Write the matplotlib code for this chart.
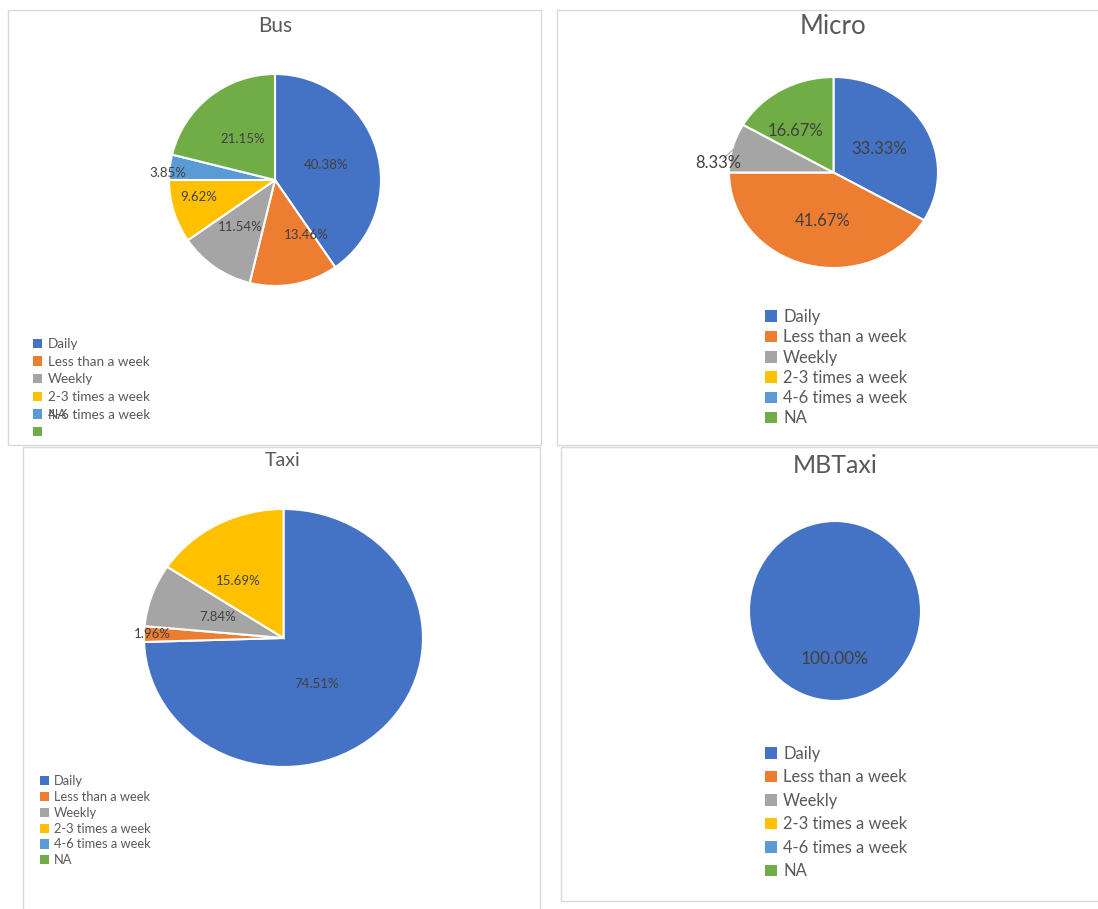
import numpy as np
import matplotlib.pyplot as plt
from matplotlib.patches import Patch, Rectangle

plt.rcParams["font.family"] = ["Lato", "DejaVu Sans"]

W, H = 1098, 909

# frequency categories and Office palette
categories = ["Daily", "Less than a week", "Weekly", "2-3 times a week", "4-6 times a week", "NA"]
colors = ["#4472C4", "#ED7D31", "#A5A5A5", "#FFC000", "#5B9BD5", "#70AD47"]

# share of respondents (%) per mode
bus = [40.38, 13.46, 11.54, 9.62, 3.85, 21.15]
micro = [33.33, 41.67, 8.33, 0, 0, 16.67]
taxi = [74.51, 1.96, 7.84, 15.69, 0, 0]
mbtaxi = [100.0, 0, 0, 0, 0, 0]

fig = plt.figure(figsize=(W / 100, H / 100), dpi=100)
fig.patch.set_facecolor("white")


def fx(x):
    return x / W


def fy(y):
    return 1 - y / H


def frame(x0, y0, x1, y1):
    fig.add_artist(Rectangle((fx(x0), fy(y1)), fx(x1) - fx(x0), fy(y0) - fy(y1),
                             transform=fig.transFigure, fill=False,
                             edgecolor="#d9d9d9", linewidth=1))


def pie_axes(cx, cy, rx, ry):
    m = 1.1
    ax = fig.add_axes([fx(cx - m * rx), fy(cy + m * ry), 2 * m * rx / W, 2 * m * ry / H])
    return ax


def draw_pie(ax, values, label_pos, fs):
    vals = [v for v in values if v > 0]
    cols = [c for v, c in zip(values, colors) if v > 0]
    wedges, _ = ax.pie(vals, colors=cols, startangle=90, counterclock=False,
                       wedgeprops=dict(edgecolor="white", linewidth=1.5))
    ax.set_aspect("auto")
    ax.set_xlim(-1.1, 1.1)
    ax.set_ylim(-1.1, 1.1)
    for w, v, (d, dt) in zip(wedges, vals, label_pos):
        ang = np.deg2rad((w.theta1 + w.theta2) / 2 + dt)
        ax.text(d * np.cos(ang), d * np.sin(ang), f"{v:.2f}%", ha="center", va="center",
                fontsize=fs, color="#404040")
    return wedges


def legend(x, y, fs, ls):
    handles = [Patch(facecolor=c, edgecolor="none") for c in colors]
    return fig.legend(handles, categories, loc="upper left", bbox_to_anchor=(fx(x), fy(y)),
                      frameon=False, fontsize=fs, handlelength=0.7, handleheight=0.7,
                      handletextpad=0.4, labelspacing=ls, borderpad=0, borderaxespad=0,
                      labelcolor="#595959")


# panel outlines
frame(8, 10, 541, 445)
frame(557, 10, 1110, 445)
frame(23, 447, 540, 920)
frame(561, 447, 1110, 901)

# Bus
fig.text(fx(275), fy(26), "Bus", ha="center", va="center", fontsize=15, color="#595959")
ax = pie_axes(275, 180, 106, 106)
draw_pie(ax, bus, [(0.5, -1), (0.6, 19), (0.55, -2), (0.74, -5), (1.01, 3), (0.49, 0)], 9.5)
bus_leg = legend(33, 338, 9.7, 0.42)
texts = bus_leg.get_texts()
texts[5].set_text("")

# Micro
fig.text(fx(833), fy(27), "Micro", ha="center", va="center", fontsize=18.5, color="#595959")
ax = pie_axes(833.5, 172.5, 104.5, 95.5)
wedges = draw_pie(ax, micro, [(0.5, 0), (0.52, 3), (1.11, 10), (0.57, 10)], 12)
w = wedges[2]
a = np.deg2rad((w.theta1 + w.theta2) / 2)
ax.plot([0.98 * np.cos(a), 1.06 * np.cos(a + 0.12)], [0.98 * np.sin(a), 1.06 * np.sin(a + 0.12)],
        color="#a6a6a6", linewidth=0.8, clip_on=False)
legend(765, 309, 11.9, 0.26)

# Taxi
fig.text(fx(283), fy(460), "Taxi", ha="center", va="center", fontsize=14, color="#595959")
ax = pie_axes(283.5, 638, 139.5, 129)
draw_pie(ax, taxi, [(0.43, -12), (0.94, 0), (0.5, 0), (0.55, 8)], 9.5)
legend(40, 775, 9.3, 0.3)

# MBTaxi
fig.text(fx(835), fy(466), "MBTaxi", ha="center", va="center", fontsize=18, color="#595959")
ax = pie_axes(835, 611, 86, 90)
draw_pie(ax, mbtaxi, [(0.53, 0)], 12.5)
legend(765, 746, 11.9, 0.45)

# the Bus legend prints "NA" on top of the 4-6 label
fig.canvas.draw()
bb = texts[4].get_window_extent()
fig.text(bb.x0 / W, bb.y0 / H, "NA", ha="left", va="bottom", fontsize=9.7, color="#595959")

fig.savefig("out.png", dpi=100)
